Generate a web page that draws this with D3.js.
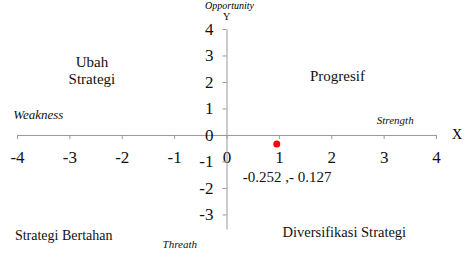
<html>
<head>
<script src="https://cdnjs.cloudflare.com/ajax/libs/d3/7.8.5/d3.min.js"></script>
</head>
<body style="margin:0"></body>
<script>
var screen = {width: 471, height: 260, bgColor: "white"};
var font = "'Liberation Serif', 'Times New Roman', Times, serif";

// axis ticks
var xTicks = [-4, -3, -2, -1, 0, 1, 2, 3, 4];
var yTicks = [-3, -2, -1, 0, 1, 2, 3, 4];
var xDomain = [-4, 4];
var yDomain = [-3.55, 4];

// the plotted position (as drawn) and its label
var point = {x: 0.96, y: -0.34, label: "-0.252 ,- 0.127"};

// quadrant / side captions
var captions = [
  {text: "Ubah", x: -2.57, y: 2.55, italic: false, size: 15, anchor: "middle"},
  {text: "Strategi", x: -2.57, y: 1.92, italic: false, size: 15, anchor: "middle"},
  {text: "Progresif", x: 2.12, y: 2.03, italic: false, size: 15, anchor: "middle"},
  {text: "Weakness", x: -4.07, y: 0.6, italic: true, size: 13, anchor: "start"},
  {text: "Strength", x: 2.87, y: 0.42, italic: true, size: 11, anchor: "start"},
  {text: "Strategi Bertahan", x: -4.04, y: -3.97, italic: false, size: 14, anchor: "start"},
  {text: "Threath", x: -1.22, y: -4.27, italic: true, size: 11, anchor: "start"},
  {text: "Diversifikasi Strategi", x: 2.25, y: -3.87, italic: false, size: 14.5, anchor: "middle"}
];

var svg = d3.select("body").append("svg")
  .attr("width", screen.width)
  .attr("height", screen.height)
  .style("background-color", screen.bgColor)
  .attr("font-family", font)
  .style("font-family", font);

var x = d3.scaleLinear().domain(xDomain).range([17, 436]);
var y = d3.scaleLinear().domain(yDomain).range([229, 29]);

var xAxis = svg.append("g")
  .attr("transform", "translate(0," + y(0) + ")")
  .call(d3.axisBottom(x).tickValues(xTicks).tickSize(4).tickSizeOuter(0).tickPadding(12)
    .tickFormat(function (d) { return String(d); }));

var yAxis = svg.append("g")
  .attr("transform", "translate(" + x(0) + ",0)")
  .call(d3.axisLeft(y).tickValues(yTicks).tickSize(4).tickSizeOuter(0).tickPadding(9)
    .tickFormat(function (d) { return String(d); }));

[xAxis, yAxis].forEach(function (g) {
  g.attr("font-family", font).attr("font-size", 17);
  g.selectAll("path, line").attr("stroke", "#999");
  g.selectAll("text").attr("fill", "#111");
});

// axis names
svg.append("text").attr("x", x(0) + 3).attr("y", 9).attr("text-anchor", "middle")
  .style("font-style", "italic").style("font-size", "10px").text("Opportunity");
svg.append("text").attr("x", x(0)).attr("y", 20).attr("text-anchor", "middle")
  .style("font-size", "10px").text("Y");
svg.append("text").attr("x", 457).attr("y", 139).attr("text-anchor", "middle")
  .style("font-size", "14px").text("X");

svg.selectAll("text.cap").data(captions).enter().append("text")
  .attr("class", "cap")
  .attr("x", function (d) { return x(d.x); })
  .attr("y", function (d) { return y(d.y); })
  .attr("text-anchor", function (d) { return d.anchor; })
  .style("font-style", function (d) { return d.italic ? "italic" : "normal"; })
  .style("font-size", function (d) { return d.size + "px"; })
  .attr("fill", "#111")
  .text(function (d) { return d.text; });

svg.append("circle")
  .attr("cx", x(point.x))
  .attr("cy", y(point.y))
  .attr("r", 3.5)
  .attr("fill", "red");

svg.append("text")
  .attr("x", x(point.x) - 34)
  .attr("y", y(point.y) + 38)
  .style("font-size", "15px")
  .attr("fill", "#111")
  .text(point.label);
</script>
</html>
